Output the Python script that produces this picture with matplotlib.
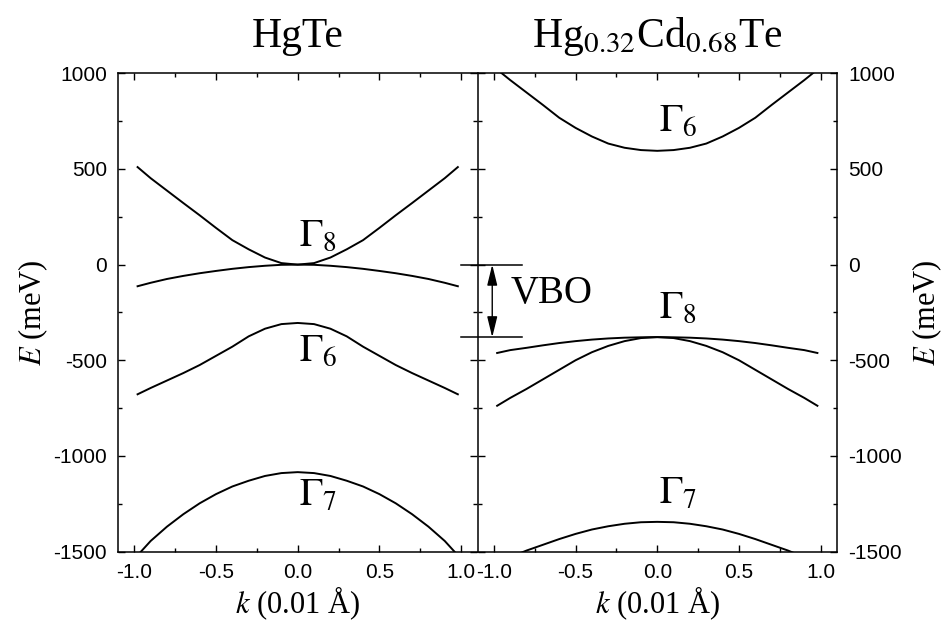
import matplotlib
matplotlib.use("Agg")
import matplotlib.pyplot as plt
from matplotlib.ticker import MultipleLocator, FormatStrFormatter

plt.rcParams["font.family"] = "Liberation Sans"
plt.rcParams["mathtext.fontset"] = "stix"
plt.rcParams["axes.unicode_minus"] = False

# wave vector samples (0.01 1/A)
k = [-0.98, -0.9, -0.8, -0.7, -0.6, -0.5, -0.4, -0.3, -0.2, -0.1, 0.0,
     0.1, 0.2, 0.3, 0.4, 0.5, 0.6, 0.7, 0.8, 0.9, 0.98]

# HgTe bands (meV)
hg_g8_light = [510, 452, 387, 322, 258, 192, 128, 80, 37, 8, 0,
               8, 37, 80, 128, 192, 258, 322, 387, 452, 510]
hg_g8_heavy = [-113, -95, -75, -59, -45, -33, -22, -13, -6, -1, 0,
               -1, -6, -13, -22, -33, -45, -59, -75, -95, -113]
hg_g6 = [-678, -645, -606, -567, -525, -477, -429, -375, -335, -311, -305,
         -311, -335, -375, -429, -477, -525, -567, -606, -645, -678]
hg_g7 = [-1520, -1445, -1370, -1305, -1248, -1200, -1160, -1130, -1105, -1090, -1085,
         -1090, -1105, -1130, -1160, -1200, -1248, -1305, -1370, -1445, -1520]

# Hg0.32Cd0.68Te bands (meV)
cd_g6 = [1020, 965, 900, 835, 768, 715, 670, 633, 611, 599, 595,
         599, 611, 633, 670, 715, 768, 835, 900, 965, 1020]
cd_g8_heavy = [-462, -447, -435, -422, -410, -400, -392, -386, -382, -380, -379,
               -380, -382, -386, -392, -400, -410, -422, -435, -447, -462]
cd_g8_light = [-738, -697, -650, -600, -550, -500, -458, -425, -400, -384, -379,
               -384, -400, -425, -458, -500, -550, -600, -650, -697, -738]
cd_g7 = [-1545, -1530, -1495, -1465, -1435, -1408, -1385, -1368, -1355, -1347, -1345,
         -1347, -1355, -1368, -1385, -1408, -1435, -1465, -1495, -1530, -1545]

vbo = 380

serif = "Liberation Serif"

fig = plt.figure(figsize=(9.43, 6.25), dpi=100)
ax1 = fig.add_axes([0.1251, 0.1176, 0.3812, 0.765])
ax2 = fig.add_axes([0.5064, 0.1176, 0.3812, 0.765])

for ax in (ax1, ax2):
    ax.set_xlim(-1.1, 1.1)
    ax.set_ylim(-1500, 1000)
    ax.xaxis.set_major_locator(MultipleLocator(0.5))
    ax.xaxis.set_minor_locator(MultipleLocator(0.25))
    ax.yaxis.set_major_locator(MultipleLocator(500))
    ax.yaxis.set_minor_locator(MultipleLocator(250))
    ax.xaxis.set_major_formatter(FormatStrFormatter("%.1f"))
    ax.tick_params(which="both", direction="in", top=True, bottom=True,
                   left=True, right=True, width=1.0, labelsize=15)
    ax.tick_params(which="major", length=5)
    ax.tick_params(which="minor", length=3)
    ax.tick_params(axis="x", pad=8)
    ax.tick_params(axis="y", pad=8)
    for sp in ax.spines.values():
        sp.set_linewidth(1.1)
    ax.set_xlabel("$k$ (0.01 Å)", fontsize=22, family=serif)
    ax.xaxis.set_label_coords(0.5, -0.068)

# the shared middle line is drawn once
ax1.spines["right"].set_visible(False)
ax2.tick_params(axis="y", labelleft=False, labelright=True)

ax1.set_ylabel("$E$ (meV)", fontsize=22, family=serif)
ax1.yaxis.set_label_coords(-0.19, 0.5)
ax2.yaxis.set_label_position("right")
ax2.set_ylabel("$E$ (meV)", fontsize=22, family=serif)
ax2.yaxis.set_label_coords(1.205, 0.5)

ax1.set_title("HgTe", fontsize=30, family=serif, pad=19)
ax2.set_title("Hg$_{0.32}$Cd$_{0.68}$Te", fontsize=30, family=serif, pad=19)

line = dict(color="black", lw=1.4)
for band in (hg_g8_light, hg_g8_heavy, hg_g6, hg_g7):
    ax1.plot(k, band, **line)
for band in (cd_g6, cd_g8_heavy, cd_g8_light, cd_g7):
    ax2.plot(k, band, **line)

# band labels
lab = dict(fontsize=28, ha="left", va="baseline")
ax1.text(0.01, 98, r"$\Gamma_8$", **lab)
ax1.text(0.01, -502, r"$\Gamma_6$", **lab)
ax1.text(0.01, -1260, r"$\Gamma_7$", **lab)
ax2.text(0.01, 701, r"$\Gamma_6$", **lab)
ax2.text(0.01, -280, r"$\Gamma_8$", **lab)
ax2.text(0.01, -1252, r"$\Gamma_7$", **lab)

# valence band offset marker
ax2.plot([-1.2, -0.83], [0, 0], color="black", lw=1.1, clip_on=False)
ax2.plot([-1.2, -0.83], [-vbo, -vbo], color="black", lw=1.1, clip_on=False)
ax2.annotate("", xy=(-1.01, -vbo), xytext=(-1.01, 0),
             arrowprops=dict(arrowstyle="<|-|>,head_length=0.9,head_width=0.22",
                             color="black", lw=1.0, shrinkA=0, shrinkB=0,
                             mutation_scale=14))
ax2.text(-0.9, -200, "VBO", fontsize=28, family=serif, va="baseline")

fig.savefig("out.png", dpi=100)
